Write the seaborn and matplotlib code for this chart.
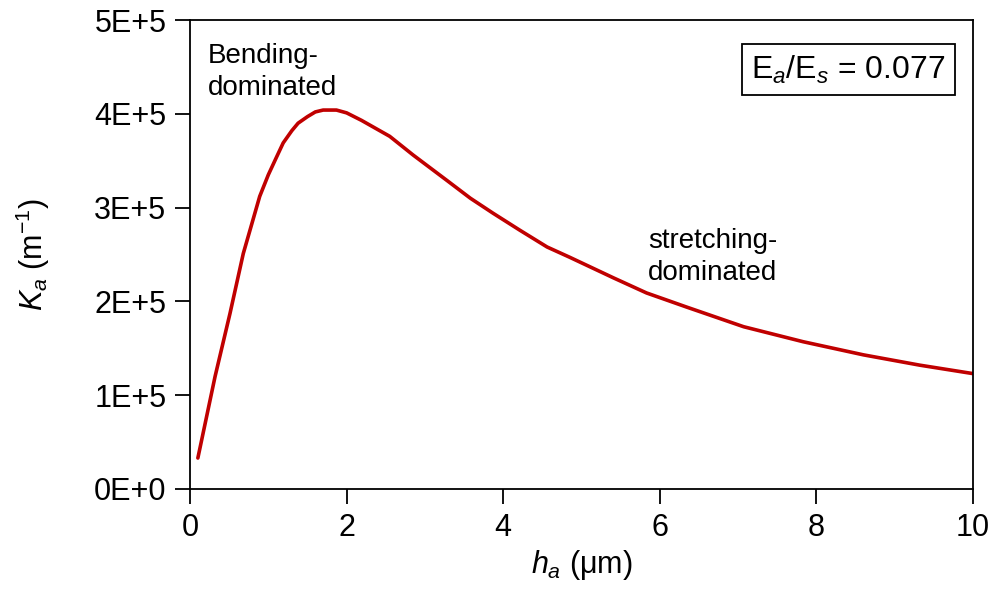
import matplotlib
matplotlib.use('Agg')
import matplotlib.pyplot as plt
import seaborn as sns
import pandas as pd

# curve
h_a = [0.1, 0.32, 0.51, 0.68, 0.89, 1.0, 1.1, 1.19, 1.3, 1.38, 1.5, 1.6, 1.7, 1.87, 2.0,
       2.19, 2.55, 2.85, 3.28, 3.58, 3.87, 4.21, 4.56, 4.85, 5.41, 5.83, 6.34, 7.07,
       7.83, 8.6, 9.32, 10.0]
K_a = [0.33, 1.2, 1.87, 2.51, 3.12, 3.35, 3.53, 3.69, 3.82, 3.9, 3.97, 4.02, 4.04, 4.04,
       4.01, 3.93, 3.76, 3.56, 3.29, 3.1, 2.94, 2.76, 2.58, 2.47, 2.25, 2.09, 1.94,
       1.73, 1.57, 1.43, 1.32, 1.23]
K_a = [v * 1e5 for v in K_a]
y_ticks = [0, 1e5, 2e5, 3e5, 4e5, 5e5]
y_labels = ['0E+0', '1E+5', '2E+5', '3E+5', '4E+5', '5E+5']

df = pd.DataFrame({'h': h_a, 'K': K_a})

sns.set_style('ticks')
plt.rcParams['font.family'] = ['Liberation Sans', 'DejaVu Sans']
plt.rcParams['text.color'] = 'black'
plt.rcParams['axes.labelcolor'] = 'black'
plt.rcParams['mathtext.fontset'] = 'custom'
plt.rcParams['mathtext.rm'] = 'Liberation Sans'
plt.rcParams['mathtext.it'] = 'Liberation Sans:italic'

fig = plt.figure(figsize=(9.97, 5.94), dpi=100)
ax = fig.add_axes([0.1906, 0.1768, 0.976 - 0.1906, 0.9663 - 0.1768])
sns.lineplot(x='h', y='K', data=df, color='#C00000', linewidth=2.6, ax=ax)

ax.set_xlim(0, 10)
ax.set_ylim(0, 5e5)
ax.set_xticks([0, 2, 4, 6, 8, 10])
ax.set_yticks(y_ticks)
ax.set_yticklabels(y_labels)
ax.tick_params(direction='out', length=11, width=1.3, labelsize=22, pad=6, colors='black')
for s in ax.spines.values():
    s.set_linewidth(1.3)
    s.set_color('black')

ax.set_xlabel(r'$\mathit{h}_{\mathit{a}}$ ($\mathrm{\mu}$m)', fontsize=22, labelpad=4)
ax.set_ylabel(r'$\mathit{K}_{\mathit{a}}$ (m$^{-1}$)', fontsize=22, labelpad=30)

ax.text(0.23, 4.14e5, 'Bending-\ndominated', fontsize=20, va='bottom', ha='left',
        linespacing=1.3)
ax.text(5.85, 2.47e5, 'stretching-\ndominated', fontsize=20, va='center', ha='left',
        linespacing=1.3)
ax.text(9.65, 4.47e5, r'E$_a$/E$_s$ = 0.077', fontsize=23, ha='right', va='center',
        bbox=dict(boxstyle='square,pad=0.3', fc='white', ec='black', lw=1.3))

fig.savefig('out.png', dpi=100)
